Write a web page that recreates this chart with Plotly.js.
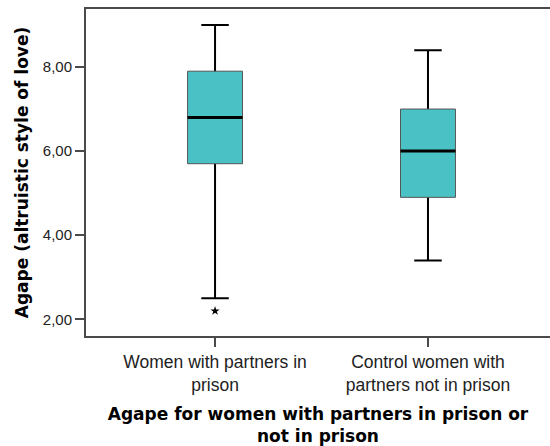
<!DOCTYPE html>
<html>
<head>
<meta charset="utf-8">
<script src="https://cdn.plot.ly/plotly-3.0.1.min.js"></script>
<style>html,body{margin:0;padding:0;background:#fff;}#chart{width:550px;height:446px;}</style>
</head>
<body>
<div id="chart"></div>
<script>
// Data
var categories = ["Women with partners in<br>prison", "Control women with<br>partners not in prison"];
var lowerWhisker = [2.5, 3.4];
var q1Values = [5.7, 4.9];
var medianValues = [6.8, 6.0];
var q3Values = [7.9, 7.0];
var upperWhisker = [9.0, 8.4];
var outlierCategory = [categories[0]];
var outlierValues = [2.2];
var yTickValues = [2, 4, 6, 8];
var yTickLabels = ["2,00", "4,00", "6,00", "8,00"];

var boxFill = "#4AC2C5";
var boxWidth = 0.258;

// whiskers (degenerate box at the median, hidden beneath the real box)
var whiskers = {
  type: "box", x: categories,
  q1: medianValues, median: medianValues, q3: medianValues,
  lowerfence: lowerWhisker, upperfence: upperWhisker,
  width: boxWidth, whiskerwidth: 0.5,
  fillcolor: boxFill, line: {color: "#000000", width: 2},
  boxpoints: false, hoverinfo: "skip", showlegend: false
};
// box body
var boxes = {
  type: "box", x: categories,
  q1: q1Values, median: medianValues, q3: q3Values,
  lowerfence: q1Values, upperfence: q3Values,
  width: boxWidth, whiskerwidth: 0,
  fillcolor: boxFill, line: {color: "#555555", width: 1},
  boxpoints: false, showlegend: false
};
// thick median line
var medians = {
  type: "box", x: categories,
  q1: medianValues, median: medianValues, q3: medianValues,
  lowerfence: medianValues, upperfence: medianValues,
  width: boxWidth, whiskerwidth: 0,
  fillcolor: "rgba(0,0,0,0)", line: {color: "#000000", width: 3},
  boxpoints: false, hoverinfo: "skip", showlegend: false
};
var outliers = {
  type: "scatter", mode: "markers", x: outlierCategory, y: outlierValues,
  marker: {symbol: "star", size: 7, color: "#000000"},
  showlegend: false
};

var layout = {
  width: 550, height: 446,
  margin: {l: 86, r: 0, t: 9, b: 110},
  paper_bgcolor: "#ffffff", plot_bgcolor: "#ffffff",
  boxmode: "overlay",
  showlegend: false,
  xaxis: {
    type: "category",
    range: [-0.606, 1.573],
    showline: true, linecolor: "#4a4a4a", linewidth: 2, mirror: true,
    showgrid: false, zeroline: false,
    ticks: "outside", ticklen: 9, tickwidth: 2, tickcolor: "#4a4a4a",
    tickfont: {family: "Liberation Sans, Arial, sans-serif", size: 17.5, color: "#222222"},
    title: {
      text: "Agape for women with partners in prison or<br>not in prison",
      font: {family: "DejaVu Sans, sans-serif", size: 17, color: "#000000", weight: "bold"},
      standoff: 15
    }
  },
  yaxis: {
    range: [1.603, 9.379],
    tickvals: yTickValues, ticktext: yTickLabels,
    showline: true, linecolor: "#4a4a4a", linewidth: 2, mirror: false,
    showgrid: false, zeroline: false,
    ticks: "outside", ticklen: 9, tickwidth: 2, tickcolor: "#4a4a4a",
    tickfont: {family: "Liberation Sans, Arial, sans-serif", size: 15, color: "#222222"},
    title: {
      text: "Agape (altruistic style of love)",
      font: {family: "DejaVu Sans, sans-serif", size: 17, color: "#000000", weight: "bold"},
      standoff: 10
    }
  }
};

Plotly.newPlot("chart", [whiskers, boxes, medians, outliers], layout, {staticPlot: true, displayModeBar: false});
</script>
</body>
</html>
